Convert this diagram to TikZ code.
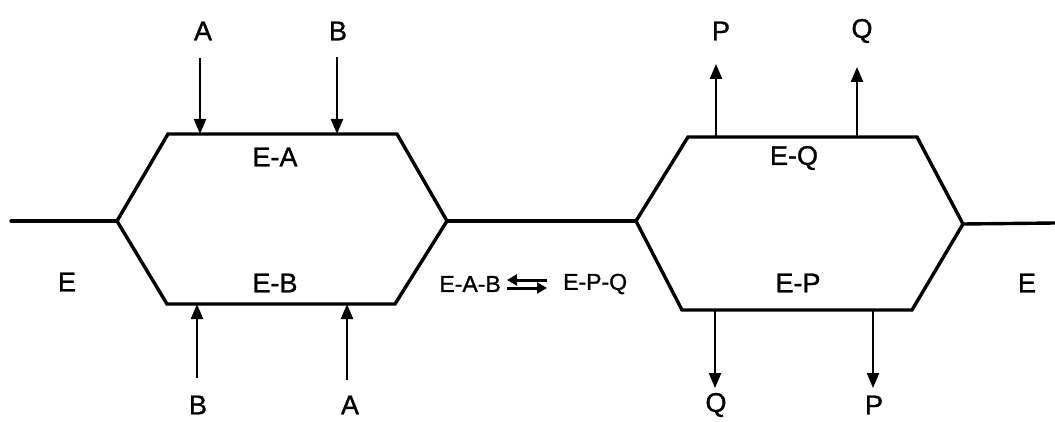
\documentclass[tikz,border=0pt]{standalone}
\usepackage{fontspec}
\setmainfont{Liberation Sans}[FakeBold=1.2]
\usetikzlibrary{arrows.meta}
\begin{document}
\begin{tikzpicture}[x=1pt,y=-1pt,
  hexline/.style={line width=3.4pt, line join=miter, line cap=round},
  flow/.style={line width=2.4pt, -{Triangle[length=15pt,width=12pt]}},
  eqarrow/.style={line width=3pt, -{Triangle[length=10pt,width=11pt]}},
  lbl/.style={font=\fontsize{27}{30}\selectfont, inner sep=0pt},
  eqlbl/.style={font=\fontsize{23}{27}\selectfont, inner sep=0pt},
]
\useasboundingbox[fill=white] (0,0) rectangle (1055,422);
% left hexagon
\coordinate (L1) at (117,221);
\coordinate (L2) at (168,134);
\coordinate (L3) at (397,134);
\coordinate (L4) at (447,221);
\coordinate (L5) at (395,304);
\coordinate (L6) at (167,304);
% right hexagon
\coordinate (R1) at (636,221);
\coordinate (R2) at (688,137);
\coordinate (R3) at (917,137);
\coordinate (R4) at (963,224);
\coordinate (R5) at (912,310);
\coordinate (R6) at (682,310);
\coordinate (Lend) at (11,221);
\coordinate (Rend) at (1055,223);
\draw[hexline] (L1)--(L2)--(L3)--(L4)--(L5)--(L6)--cycle;
\draw[hexline] (R1)--(R2)--(R3)--(R4)--(R5)--(R6)--cycle;
\draw[hexline] (Lend)--(L1);
\draw[hexline] (L4)--(R1);
\draw[hexline] (R4)--(Rend);
% labels
\node[lbl] (tA) at (203,31) {A};
\node[lbl] (tB) at (338,31) {B};
\node[lbl] (bB) at (198,405) {B};
\node[lbl] (bA) at (350,405) {A};
\node[lbl] (tP) at (721,31) {P};
\node[lbl] (tQ) at (862,31) {Q};
\node[lbl] (bQ) at (716,405) {Q};
\node[lbl] (bP) at (874,405) {P};
\node[lbl] (EA) at (275,157) {E-A};
\node[lbl] (EB) at (275,283) {E-B};
\node[lbl] (EQ) at (794,158) {E-Q};
\node[lbl] (EP) at (798,283) {E-P};
\node[lbl] (El) at (67,282) {E};
\node[lbl] (Er) at (1027,283) {E};
\node[eqlbl, anchor=east] (EAB) at (501,284) {E-A-B};
\node[eqlbl, anchor=west] (EPQ) at (563,284) {E-P-Q};
% equilibrium arrows
\draw[eqarrow] ([yshift=-4pt,xshift=6pt]EAB.east) -- ([yshift=-4pt,xshift=-16pt]EPQ.west);
\draw[eqarrow] ([yshift=4pt,xshift=-16pt]EPQ.west) -- ([yshift=4pt,xshift=6pt]EAB.east);
% arrow end points
\coordinate (sA1) at (200,58);  \coordinate (eA1) at (200,134);
\coordinate (sB1) at (337,57);  \coordinate (eB1) at (337,134);
\coordinate (sB2) at (197,378); \coordinate (eB2) at (197,304);
\coordinate (sA2) at (347,380); \coordinate (eA2) at (347,304);
\coordinate (sP1) at (716,137); \coordinate (eP1) at (716,64);
\coordinate (sQ1) at (857,137); \coordinate (eQ1) at (857,67);
\coordinate (sQ2) at (715,310); \coordinate (eQ2) at (715,388);
\coordinate (sP2) at (873,310); \coordinate (eP2) at (873,388);
\draw[flow] (sA1) -- (eA1);
\draw[flow] (sB1) -- (eB1);
\draw[flow] (sB2) -- (eB2);
\draw[flow] (sA2) -- (eA2);
\draw[flow] (sP1) -- (eP1);
\draw[flow] (sQ1) -- (eQ1);
\draw[flow] (sQ2) -- (eQ2);
\draw[flow] (sP2) -- (eP2);
\end{tikzpicture}
\end{document}
